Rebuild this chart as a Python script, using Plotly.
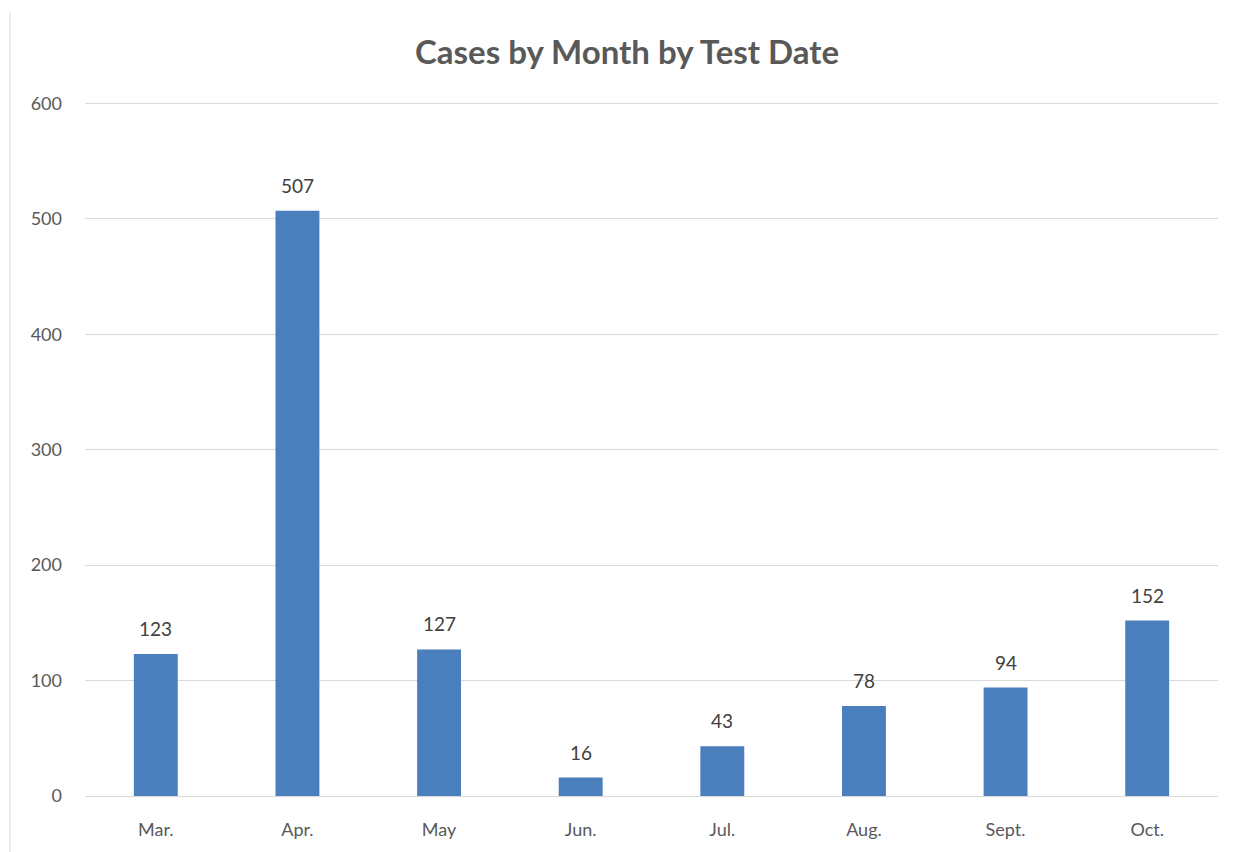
import plotly.graph_objects as go

months = ["Mar.", "Apr.", "May", "Jun.", "Jul.", "Aug.", "Sept.", "Oct."]
cases = [123, 507, 127, 16, 43, 78, 94, 152]
y_ticks = [0, 100, 200, 300, 400, 500, 600]

# page has an 8px body margin; compensate so positions match the reference
W, H = 1230, 844
L, R, T, B = 77, 20, 92, 54
FONT = "Lato"

fig = go.Figure()
fig.add_trace(go.Bar(x=months, y=cases, marker=dict(color="#4A7EBD", line=dict(width=0)),
                     hoverinfo="x+y"))

for m, v in zip(months, cases):
    fig.add_annotation(x=m, y=v, text=str(v), showarrow=False, yanchor="bottom",
                       yshift=12, font=dict(family=FONT, size=19, color="#404040"))

plot_h = H - T - B
plot_w = W - L - R
fig.add_shape(type="line", xref="paper", yref="paper",
              x0=(2 - L) / plot_w, x1=(2 - L) / plot_w,
              y0=(H - B - 4) / plot_h, y1=(H - B - H - 10) / plot_h,
              line=dict(color="#d9d9d9", width=1))

fig.update_layout(
    width=W, height=H,
    margin=dict(l=L, r=R, t=T, b=B),
    paper_bgcolor="white", plot_bgcolor="white",
    showlegend=False,
    bargap=0.69,
    title=dict(text="<b>Cases by Month by Test Date</b>", x=619 / W, xref="container",
               xanchor="center",
               y=1 - 44 / H, yref="container", yanchor="middle",
               font=dict(family=FONT, size=33, color="#595959")),
    xaxis=dict(showgrid=False, showline=True, linecolor="#d9d9d9", linewidth=1,
               ticks="", ticklabelstandoff=17,
               tickfont=dict(family=FONT, size=18, color="#595959")),
    yaxis=dict(range=[0, 603], tickvals=y_ticks, showgrid=True, gridcolor="#d9d9d9",
               gridwidth=1, zeroline=False, showline=False, ticks="",
               ticklabelstandoff=22,
               tickfont=dict(family=FONT, size=18, color="#595959")),
)

fig.write_html("out.html")
